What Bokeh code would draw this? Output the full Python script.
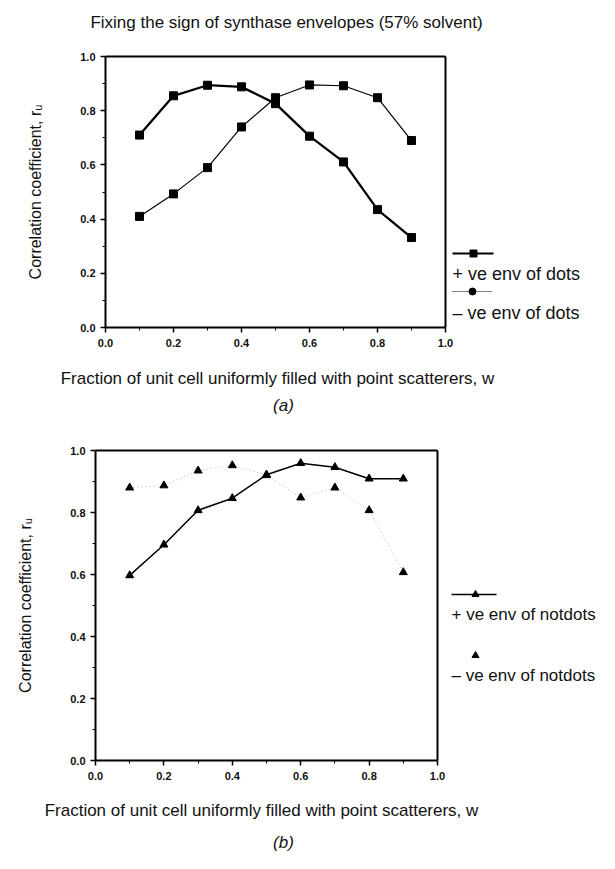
import math
from bokeh.plotting import figure
from bokeh.layouts import column
from bokeh.models import Range1d, FixedTicker, CustomJSTickFormatter, Label, LinearAxis
from bokeh.embed import file_html
from bokeh.resources import INLINE

# ---------------- data ----------------
w = [0.1, 0.2, 0.3, 0.4, 0.5, 0.6, 0.7, 0.8, 0.9]
pos_env_dots = [0.71, 0.855, 0.894, 0.888, 0.826, 0.706, 0.611, 0.435, 0.332]
neg_env_dots = [0.41, 0.493, 0.59, 0.74, 0.848, 0.895, 0.892, 0.848, 0.69]
pos_env_notdots = [0.597, 0.696, 0.807, 0.846, 0.922, 0.959, 0.946, 0.909, 0.909]
neg_env_notdots = [0.880, 0.887, 0.935, 0.952, 0.920, 0.848, 0.880, 0.807, 0.607]
major_ticks = [0.0, 0.2, 0.4, 0.6, 0.8, 1.0]
minor_ticks = [0.1, 0.3, 0.5, 0.7, 0.9]

title_text = "Fixing the sign of synthase envelopes (57% solvent)"
x_label = "Fraction of unit cell uniformly filled with point scatterers, w"
y_label = "Correlation coefficient, r\u1d64"
legend_a = ["+ ve env of dots", "\u2013 ve env of dots"]
legend_b = ["+ ve env of notdots", "\u2013 ve env of notdots"]

FONT = "Liberation Sans"
INK = "#111111"


def frame_axis():
    # plain axis used as the top / right border of the chart box
    return LinearAxis(fixed_location=1, bounds=(0, 1), ticker=FixedTicker(ticks=[]),
                      axis_line_width=2, axis_line_color="black",
                      major_tick_out=0, major_tick_in=0, minor_tick_out=0, minor_tick_in=0,
                      major_label_text_alpha=0)


def base_fig(width, height, left_px, unit_x, bottom_px, unit_y):
    # frame covers the whole canvas; the [0,1]x[0,1] box sits at the given pixel place
    xr = Range1d(-left_px / unit_x, (width - left_px) / unit_x)
    yr = Range1d(-(height - bottom_px) / unit_y, bottom_px / unit_y)
    p = figure(width=width, height=height, x_range=xr, y_range=yr, title=None,
               output_backend="svg", toolbar_location=None, min_border=0)
    p.outline_line_color = None
    p.xgrid.visible = False
    p.ygrid.visible = False
    p.background_fill_color = "white"
    p.border_fill_color = "white"
    for ax in (p.xaxis[0], p.yaxis[0]):
        ax.fixed_location = 0
        ax.bounds = (0, 1)
        ax.ticker = FixedTicker(ticks=major_ticks, minor_ticks=minor_ticks)
        ax.formatter = CustomJSTickFormatter(code="return tick.toFixed(1);")
        ax.axis_line_width = 2
        ax.axis_line_color = "black"
        ax.major_tick_line_width = 1.5
        ax.major_tick_out = 5
        ax.major_tick_in = 0
        ax.minor_tick_out = 3
        ax.minor_tick_in = 0
        ax.minor_tick_line_width = 1
        ax.major_label_text_font = FONT
        ax.major_label_text_font_size = "11px"
        ax.major_label_text_font_style = "bold"
        ax.major_label_text_color = INK
    p.xaxis.major_label_standoff = 6
    p.yaxis.major_label_standoff = 5
    p.add_layout(frame_axis(), "above")
    p.add_layout(frame_axis(), "right")
    return p


def txt(p, x, y, text, fs, align="left", angle=0.0, style="normal"):
    p.add_layout(Label(x=x, y=y, text=text, text_font=FONT, text_font_size=fs,
                       text_baseline="middle", text_align=align, angle=angle,
                       text_font_style=style, text_color=INK))


# ---------------- chart (a) ----------------
ux, uy = 340.0, 271.0
pa = base_fig(599, 425, 105, ux, 327, uy)
pa.line(w, neg_env_dots, line_color="black", line_width=1.2)
pa.scatter(w, neg_env_dots, marker="square", size=8, color="black")
pa.line(w, pos_env_dots, line_color="black", line_width=2.3)
pa.scatter(w, pos_env_dots, marker="square", size=8, color="black")

txt(pa, (286 - 105) / ux, (327 - 22) / uy, title_text, "17px", align="center")
txt(pa, (277 - 105) / ux, (327 - 378) / uy, x_label, "17px", align="center")
txt(pa, (283 - 105) / ux, (327 - 405) / uy, "(a)", "17px", align="center", style="italic")
txt(pa, (35 - 105) / ux, 0.5, y_label, "16px", align="center", angle=math.pi / 2)

# legend (a)
lx0, lx1 = (452 - 105) / ux, (493 - 105) / ux
pa.line([lx0, lx1], [(327 - 253) / uy] * 2, line_color="black", line_width=2)
pa.scatter([(473 - 105) / ux], [(327 - 253) / uy], marker="square", size=7, color="black")
txt(pa, lx0, (327 - 273) / uy, legend_a[0], "18px")
pa.line([lx0, (491 - 105) / ux], [(327 - 291) / uy] * 2, line_color="black", line_width=1,
        line_dash="1 1")
pa.scatter([(472 - 105) / ux], [(327 - 291) / uy], marker="circle", size=7, color="black")
txt(pa, lx0, (327 - 312) / uy, legend_a[1], "18px")

# ---------------- chart (b) ----------------
vx, vy = 342.0, 310.0
pb = base_fig(599, 428, 95, vx, 335, vy)
pb.line(w, neg_env_notdots, line_color="#b5b5b5", line_width=1, line_dash="1 3")
pb.scatter(w, neg_env_notdots, marker="triangle", size=8, color="black")
pb.line(w, pos_env_notdots, line_color="black", line_width=1.5)
pb.scatter(w, pos_env_notdots, marker="triangle", size=8, color="black")

txt(pb, (261 - 95) / vx, (335 - 385) / vy, x_label, "17px", align="center")
txt(pb, (283 - 95) / vx, (335 - 417) / vy, "(b)", "17px", align="center", style="italic")
txt(pb, (25 - 95) / vx, 0.5, y_label, "16px", align="center", angle=math.pi / 2)

# legend (b)
mx0, mx1 = (451 - 95) / vx, (496 - 95) / vx
pb.line([mx0, mx1], [(335 - 169) / vy] * 2, line_color="black", line_width=1.5)
pb.scatter([(475 - 95) / vx], [(335 - 169) / vy], marker="triangle", size=7, color="black")
txt(pb, mx0, (335 - 189) / vy, legend_b[0], "17px")
pb.scatter([(475 - 95) / vx], [(335 - 230) / vy], marker="triangle", size=7, color="black")
txt(pb, mx0, (335 - 250) / vy, legend_b[1], "17px")

layout = column(pa, pb)
open("out.html", "w").write(file_html(layout, INLINE))
